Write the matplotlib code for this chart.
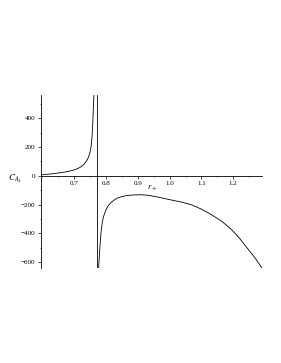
import matplotlib
matplotlib.use("Agg")
import matplotlib.pyplot as plt
from matplotlib.ticker import MultipleLocator

# values
left_r = [0.596, 0.62, 0.64, 0.66, 0.68, 0.70, 0.71, 0.72, 0.73, 0.74,
          0.745, 0.75, 0.753, 0.756, 0.758, 0.760, 0.762]
left_c = [6, 11, 16, 22, 29, 40, 49, 60, 78, 106,
          130, 165, 200, 265, 340, 450, 560]

right_r = [0.777, 0.7785, 0.780, 0.7825, 0.785, 0.788, 0.792, 0.798, 0.805,
           0.814, 0.825, 0.836, 0.850, 0.867, 0.89, 0.91, 0.93, 0.963, 1.0,
           1.037, 1.068, 1.10, 1.132, 1.165, 1.195, 1.22, 1.248, 1.27, 1.29]
right_c = [-640, -580, -530, -444, -385, -329, -285, -248, -215,
           -190, -170, -155, -145, -137, -133, -132, -135, -148, -166,
           -183, -201, -232, -271, -318, -375, -435, -514, -575, -641]

pole_r = 0.771
x_ticks = [0.7, 0.8, 0.9, 1.0, 1.1, 1.2]
x_labels = ["0.7", "0.8", "0.9", "1.0", "1.1", "1.2"]
y_ticks = [-600, -400, -200, 0, 200, 400]

plt.rcParams['font.family'] = ['Liberation Serif', 'DejaVu Serif']
plt.rcParams['mathtext.fontset'] = 'stix'

fig = plt.figure(figsize=(2.81, 3.63), dpi=100)
ax = fig.add_axes([0.145, 0.262, 0.787, 0.476])

ax.plot(left_r, left_c, color="black", linewidth=0.6)
ax.plot(right_r, right_c, color="black", linewidth=0.6)
ax.plot([pole_r, pole_r], [-640, 560], color="black", linewidth=0.6)

ax.set_xlim(0.595, 1.29)
ax.set_ylim(-640, 560)

ax.spines['top'].set_visible(False)
ax.spines['right'].set_visible(False)
ax.spines['bottom'].set_position(('data', 0))
ax.spines['bottom'].set_linewidth(0.6)
ax.spines['left'].set_linewidth(0.6)

ax.set_xticks(x_ticks)
ax.set_xticklabels(x_labels)
ax.set_yticks(y_ticks)
ax.xaxis.set_minor_locator(MultipleLocator(0.05))
ax.yaxis.set_minor_locator(MultipleLocator(100))
ax.tick_params(which='major', length=2, width=0.5, labelsize=5, pad=2)
ax.tick_params(which='minor', length=1, width=0.4)

ax.text(0.945, -85, r"$r_+$", fontsize=6, ha="center", va="center")
ax.text(0.513, -20, r"$C_{A_4}$", fontsize=6.5, ha="center", va="center",
        clip_on=False)

fig.savefig("out.png", dpi=100)
